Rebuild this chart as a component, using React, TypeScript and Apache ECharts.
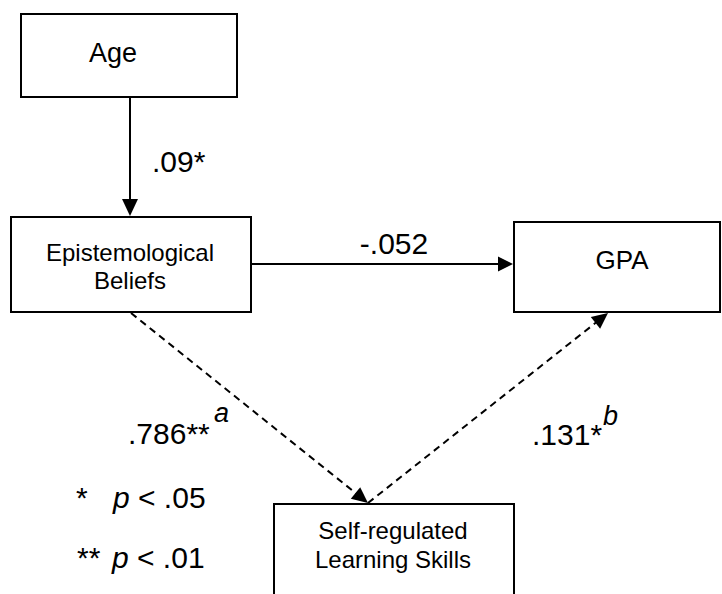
import React, { useEffect, useRef } from "react";
import * as echarts from "echarts";

// ---- Content ----
const nodeLabels = ["Age", "Epistemological\nBeliefs", "GPA", "Self-regulated\nLearning Skills"];
const pathCoefficients = [".09*", "-.052", ".786**", ".131*"];
const pathSuperscripts = ["", "", "a", "b"];
const significanceStars = ["*", "**"];
const significanceLevels = ["< .05", "< .01"];

// ---- Layout (positions / sizes / styles) ----
const FONT = "'Liberation Sans', Arial, Helvetica, sans-serif";
const W = 722;
const H = 594;

const nodeBoxes = [
  { x: 21, y: 14, w: 216, h: 83, tx: 113, ty: 53, fs: 27, lh: 30 },
  { x: 11, y: 217, w: 240, h: 95, tx: 130, ty: 266, fs: 24, lh: 28 },
  { x: 514, y: 222, w: 206, h: 90, tx: 622, ty: 260, fs: 26, lh: 30 },
  { x: 274, y: 504, w: 240, h: 130, tx: 393, ty: 545, fs: 24, lh: 29 },
];

const edgeLayout = [
  { from: [130, 97], to: [130, 216], dashed: false, len: 17, hw: 8 },
  { from: [251, 264], to: [513, 264], dashed: false, len: 15, hw: 7.5 },
  { from: [131, 313], to: [368, 503], dashed: true, len: 16, hw: 7.5 },
  { from: [368, 503], to: [608, 313], dashed: true, len: 16, hw: 7.5 },
];

const coefLayout = [
  { x: 152, y: 161, align: "left" },
  { x: 394, y: 243, align: "center" },
  { x: 128, y: 433, align: "left" },
  { x: 532, y: 434, align: "left" },
];
const supLayout = [null, null, { x: 214, y: 413 }, { x: 603, y: 416 }];

const legendLayout = [
  { sx: 76, px: 113, y: 497 },
  { sx: 77, px: 112, y: 557 },
];

function buildGraphics() {
  const els: any[] = [];

  // boxes
  nodeLabels.forEach((label, i) => {
    const b = nodeBoxes[i];
    els.push({
      type: "rect",
      shape: { x: b.x, y: b.y, width: b.w, height: b.h },
      style: { fill: "#fff", stroke: "#000", lineWidth: 2 },
      z: 1,
    });
    els.push({
      type: "text",
      x: b.tx,
      y: b.ty,
      style: {
        text: label,
        fill: "#000",
        fontSize: b.fs,
        fontFamily: FONT,
        lineHeight: b.lh,
        textAlign: "center",
        textVerticalAlign: "middle",
      },
      z: 3,
    });
  });

  // edges with arrowheads
  edgeLayout.forEach((e) => {
    const [x1, y1] = e.from;
    const [x2, y2] = e.to;
    const dx = x2 - x1;
    const dy = y2 - y1;
    const L = Math.sqrt(dx * dx + dy * dy);
    const ux = dx / L;
    const uy = dy / L;
    const bx = x2 - ux * e.len;
    const by = y2 - uy * e.len;
    const px = -uy * e.hw;
    const py = ux * e.hw;
    els.push({
      type: "line",
      shape: { x1, y1, x2: bx + ux * 1, y2: by + uy * 1 },
      style: {
        stroke: "#000",
        lineWidth: 2,
        lineDash: e.dashed ? [7, 5] : null,
      },
      z: 2,
    });
    els.push({
      type: "polygon",
      shape: {
        points: [
          [x2, y2],
          [bx + px, by + py],
          [bx - px, by - py],
        ],
      },
      style: { fill: "#000" },
      z: 4,
    });
  });

  // coefficients
  pathCoefficients.forEach((c, i) => {
    const p = coefLayout[i];
    els.push({
      type: "text",
      x: p.x,
      y: p.y,
      style: {
        text: c,
        fill: "#000",
        fontSize: 30,
        fontFamily: FONT,
        textAlign: p.align,
        textVerticalAlign: "middle",
      },
      z: 3,
    });
    const s = supLayout[i];
    if (pathSuperscripts[i] && s) {
      els.push({
        type: "text",
        x: s.x,
        y: s.y,
        style: {
          text: pathSuperscripts[i],
          fill: "#000",
          fontSize: 27,
          fontStyle: "italic",
          fontFamily: FONT,
          textAlign: "left",
          textVerticalAlign: "middle",
        },
        z: 3,
      });
    }
  });

  // significance legend
  significanceStars.forEach((st, i) => {
    const l = legendLayout[i];
    els.push({
      type: "text",
      x: l.sx,
      y: l.y,
      style: {
        text: st,
        fill: "#000",
        fontSize: 30,
        fontFamily: FONT,
        textAlign: "left",
        textVerticalAlign: "middle",
      },
      z: 3,
    });
    els.push({
      type: "text",
      x: l.px,
      y: l.y,
      style: {
        text: "{i|p} " + significanceLevels[i],
        fill: "#000",
        fontSize: 30,
        fontFamily: FONT,
        textAlign: "left",
        textVerticalAlign: "middle",
        rich: {
          i: { fontStyle: "italic", fontSize: 30, fontFamily: FONT, fill: "#000" },
        },
      },
      z: 3,
    });
  });

  return els;
}

export default function App() {
  const ref = useRef<HTMLDivElement>(null);

  useEffect(() => {
    document.body.style.margin = "0";
    if (!ref.current) return;
    const chart = echarts.init(ref.current, null, { renderer: "svg", width: W, height: H });
    chart.setOption({
      animation: false,
      backgroundColor: "#fff",
      graphic: { elements: buildGraphics() },
    });
    return () => {
      chart.dispose();
    };
  }, []);

  return <div ref={ref} style={{ width: W, height: H, overflow: "hidden" }} />;
}
